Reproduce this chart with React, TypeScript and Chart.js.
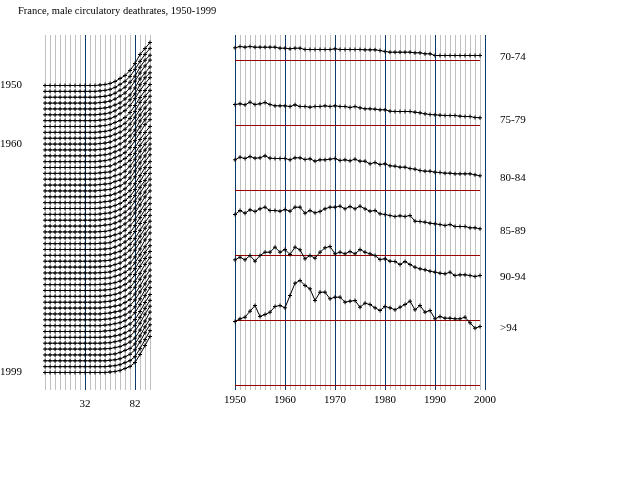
import { useEffect, useRef } from 'react';
import { Chart, type ChartConfiguration } from 'chart.js/auto';

Chart.defaults.font.family = "'Liberation Serif', 'Times New Roman', serif";
Chart.defaults.font.size = 11;
Chart.defaults.color = '#000';

const GRAY = '#c0c0c0';
const NAVY = '#0b3b6b';
const RED = '#990000';

const TITLE = 'France, male circulatory deathrates, 1950-1999';

const years = Array.from({ length: 50 }, (_, i) => 1950 + i);

// left panel: age axis (group midpoints), one curve per year
const ages = [-8, -3, 2, 7, 12, 17, 22, 27, 32, 37, 42, 47, 52, 57, 62, 67, 72, 77, 82, 87, 92, 97];
const ageLabels = [32, 82];
const youngRise = [0, 0, 0, 0, 0, 0, 0, 0, 0, 0, 0];
// rise over ages 47..97, one row per year 1950..1999
const oldRise = [
  [0.5, 1, 2, 4, 7, 10, 15, 22, 31, 37, 43],
  [0.5, 1, 2, 4, 7, 10, 15, 22, 30, 37, 43],
  [0.5, 1, 2, 4, 7, 10, 15, 21, 30, 37, 42],
  [0.5, 1, 2, 4, 7, 10, 15, 22, 30, 37, 43],
  [0.5, 1, 2, 4, 6, 10, 14, 21, 30, 36, 42],
  [0.5, 1, 2, 4, 7, 10, 15, 21, 30, 37, 42],
  [0.5, 1, 2, 4, 7, 10, 15, 22, 30, 37, 43],
  [0.5, 1, 2, 4, 6, 9, 14, 21, 29, 36, 42],
  [0.5, 1, 2, 4, 6, 9, 14, 21, 30, 36, 42],
  [0.5, 1, 2, 4, 6, 9, 14, 21, 29, 36, 42],
  [0.5, 1, 2, 4, 6, 9, 14, 21, 29, 36, 42],
  [0.5, 1, 2, 3.5, 6, 9, 14, 20, 29, 36, 41],
  [0.5, 1, 2, 4, 6, 9, 14, 21, 29, 36, 42],
  [0.5, 1, 2, 4, 6, 9, 14, 21, 29, 37, 42],
  [0.5, 1, 1.5, 3.5, 6, 9, 13, 20, 28, 35, 41],
  [0.5, 1, 1.5, 3.5, 6, 9, 13, 20, 28, 35, 41],
  [0.5, 1, 1.5, 3.5, 5, 8, 13, 20, 28, 35, 41],
  [0.5, 1, 1.5, 3.5, 5, 8, 13, 20, 28, 35, 41],
  [0.5, 1, 1.5, 3.5, 5, 8, 13, 20, 28, 35, 42],
  [0.3, 1, 1.5, 3, 5, 8, 13, 20, 28, 35, 42],
  [0.3, 1, 1.5, 3, 5, 8, 12, 19, 27, 35, 41],
  [0.3, 1, 1.5, 3, 5, 8, 12, 19, 27, 35, 41],
  [0.3, 1, 1.5, 3, 5, 8, 12, 19, 27, 34, 41],
  [0.3, 1, 1.5, 3, 5, 8, 12, 19, 27, 35, 41],
  [0.3, 1, 1.5, 3, 5, 8, 12, 18, 27, 34, 41],
  [0.3, 0.5, 1.5, 3, 5, 8, 12, 19, 27, 35, 41],
  [0.3, 0.5, 1.5, 3, 4.5, 7.5, 12, 18, 26, 34, 40],
  [0.3, 0.5, 1, 3, 4.5, 7.5, 11, 18, 26, 34, 40],
  [0.2, 0.5, 1, 2.5, 4.5, 7.5, 11, 18, 26, 34, 40],
  [0.2, 0.5, 1, 2.5, 4, 7, 11, 17, 25, 33, 40],
  [0.2, 0.5, 1, 2.5, 4, 7, 11, 17, 25, 33, 40],
  [0.2, 0.5, 1, 2.5, 4, 7, 10, 17, 25, 33, 40],
  [0.2, 0.5, 1, 2.5, 4, 6.5, 10, 16, 24, 33, 40],
  [0.2, 0.5, 1, 2.5, 4, 6.5, 10, 16, 24, 32, 39],
  [0.2, 0.5, 1, 2, 3.5, 6, 10, 16, 24, 32, 39],
  [0.2, 0.5, 1, 2, 3.5, 6, 9.5, 16, 24, 32, 39],
  [0.1, 0.5, 1, 2, 3.5, 6, 9, 15, 23, 32, 39],
  [0, 0.5, 1, 2, 3.5, 5.5, 9, 15, 23, 31, 39],
  [0, 0.5, 1, 2, 3, 5.5, 8.5, 14, 22, 31, 38],
  [0, 0.5, 1, 2, 3, 5, 8.5, 14, 22, 30, 38],
  [0, 0.5, 1, 2, 3, 5, 8, 13, 21, 30, 38],
  [0, 0.5, 1, 2, 3, 5, 8, 13, 21, 30, 38],
  [0, 0.5, 1, 1.5, 3, 5, 7.5, 12, 20, 29, 37],
  [0, 0.3, 0.5, 1.5, 2.5, 4.5, 7, 12, 20, 29, 37],
  [0, 0.3, 0.5, 1.5, 2.5, 4.5, 7, 12, 20, 29, 37],
  [0, 0.3, 0.5, 1.5, 2.5, 4.5, 7, 11, 19, 28, 37],
  [0, 0, 0.5, 1, 2.5, 4.5, 6.5, 11, 19, 28, 36],
  [0, 0, 0.5, 1, 2, 4, 6.5, 11, 19, 28, 36],
  [0, 0, 0.5, 1, 2, 4, 6, 10, 18, 27, 36],
  [0, 0, 0.5, 1, 2, 4, 6, 10, 18, 27, 36],
];
const yearTicks = [1950, 1960, 1999];

// right panel: one series per age group, height over its own baseline
const ageGroups = ['70-74', '75-79', '80-84', '85-89', '90-94', '>94'];
const rate7074 = [12.7, 14, 13.3, 14, 13.3, 13.3, 13.3, 13.3, 13.3, 12.3, 12.3, 11.7, 12.3, 12.3, 11, 11, 11, 11, 11, 11, 11.7, 11, 11, 11, 11, 11, 10.7, 10.7, 10.7, 10, 9, 8.3, 8.3, 8.3, 8.3, 8.3, 7.7, 7.7, 6.7, 6.7, 5, 5, 5, 5, 5, 5, 5, 5, 5, 5];
const rate7579 = [21, 21.7, 20.7, 23.3, 21, 21.7, 23, 21, 19.7, 19.7, 19.7, 19, 20.7, 19, 19, 18.3, 19, 19, 19.7, 19, 19.7, 19, 19, 18, 19, 17.7, 16.7, 16.7, 16.3, 15.7, 15.7, 14.3, 14, 14, 14, 14, 13.3, 12.7, 11.7, 11, 10.7, 10.3, 10, 10, 10, 9.3, 9, 9, 8, 7.7];
const rate8084 = [30.7, 33.3, 32, 34, 32.3, 32.7, 34.7, 32.3, 32, 32, 32, 30.7, 32.7, 32.7, 31, 31.7, 29.3, 30.7, 30.7, 31.3, 32, 30, 30.7, 29.7, 31.3, 29.3, 29.3, 26.7, 28, 26, 26.7, 24.7, 24.3, 23.3, 23.3, 22, 21.3, 20, 19.3, 19.3, 18.3, 18, 17.3, 17.3, 16.7, 16.7, 16.7, 16.7, 15.7, 14.7];
const rate8589 = [41, 45, 42.3, 45.7, 44, 46.7, 48.3, 45, 45, 44.3, 46, 44.3, 48.3, 48.3, 42.3, 45, 42.7, 44, 46.7, 48.3, 48.3, 49.3, 46.7, 49, 46.7, 49.3, 46.7, 44.3, 45, 41.7, 41, 40, 39, 39.7, 39, 40, 34.3, 34, 33.3, 32.3, 31.7, 31, 30, 31, 29, 29, 29, 27.7, 27.7, 26.7];
const rate9094 = [60.7, 63.3, 60.7, 65, 59.3, 65, 68.3, 68.3, 73.3, 68.3, 71, 66, 73.3, 70.7, 61.7, 65, 62.3, 68.3, 72.7, 74, 66.7, 68.3, 66.7, 69, 66.7, 71, 68.3, 66.7, 65, 61, 61.7, 59.3, 59, 56, 59, 56, 53.3, 51.7, 50.7, 49.3, 48.3, 47.3, 46.7, 48.3, 45, 45.7, 45.7, 45, 44, 45];
const rateOver94 = [64, 66.7, 68.3, 74.3, 80, 69, 71, 73.3, 79, 80, 77.7, 90, 102.3, 105, 100, 96.7, 85, 93.3, 93.3, 86.7, 88.3, 88.3, 83.3, 84.3, 85, 78.3, 82.3, 81, 77.7, 75, 79, 77.7, 75.7, 78.3, 81, 84.3, 75.7, 80, 73.3, 75, 66.7, 69, 67.3, 67.3, 66.7, 66.7, 68.3, 62.7, 57.3, 59];
const rateSeries = [rate7074, rate7579, rate8084, rate8589, rate9094, rateOver94];

// vertical layout of the stacked curves
const YEAR_GAP = 5.857;
const BASE_1999 = 18;
const PANEL_GAP = 65;
const curveBase = (yr: number) => BASE_1999 + (1999 - yr) * YEAR_GAP;
const panelBase = (i: number) => (ageGroups.length - 1 - i) * PANEL_GAP;

const gridColor = (marks: number[]) => (ctx: any) =>
  ctx.tick && marks.includes(ctx.tick.value) ? NAVY : GRAY;

const leftConfig: ChartConfiguration<'line'> = {
  type: 'line',
  data: {
    datasets: years.map((yr, i) => {
      const rise = [...youngRise, ...oldRise[i]];
      return {
        data: ages.map((a, j) => ({ x: a, y: curveBase(yr) + rise[j] })),
        borderColor: '#000',
        borderWidth: 1,
        pointStyle: 'cross',
        pointRadius: 2,
        pointBorderWidth: 1,
        pointBorderColor: '#000',
        clip: false as any,
      };
    }),
  },
  options: {
    responsive: false,
    animation: false,
    layout: { padding: { left: 0, top: 35, right: 30, bottom: 70 } },
    plugins: { legend: { display: false }, tooltip: { enabled: false } },
    scales: {
      x: {
        type: 'linear',
        min: -8,
        max: 97,
        afterBuildTicks: (s: any) => { s.ticks = ages.map((v) => ({ value: v })); },
        afterFit: (s: any) => { s.height = 20; },
        grid: { color: gridColor(ageLabels), drawTicks: false },
        border: { display: false },
        ticks: { autoSkip: false, maxRotation: 0, padding: 8, callback: (v: any) => (ageLabels.includes(v) ? String(v) : '') },
      },
      y: {
        min: 0.5,
        max: 355.5,
        afterBuildTicks: (s: any) => { s.ticks = yearTicks.map((yr) => ({ value: curveBase(yr) })); },
        afterFit: (s: any) => { s.width = 45; },
        grid: { display: false },
        border: { display: false },
        ticks: {
          crossAlign: 'far',
          padding: 0,
          callback: (v: any) => String(Math.round(1999 - (v - BASE_1999) / YEAR_GAP)),
        },
      },
    },
  },
};

const groupLabels = {
  id: 'groupLabels',
  afterDatasetsDraw(chart: any) {
    const { ctx, chartArea } = chart;
    ctx.save();
    ctx.font = "11px 'Liberation Serif', serif";
    ctx.fillStyle = '#000';
    ctx.textBaseline = 'middle';
    ageGroups.forEach((g, i) => {
      const pts = chart.getDatasetMeta(i).data;
      ctx.fillText(g, chartArea.right + 15, pts[pts.length - 1].y + 2);
    });
    ctx.restore();
  },
};

const rightConfig: ChartConfiguration<'line'> = {
  type: 'line',
  data: {
    datasets: [
      ...rateSeries.map((vals, i) => ({
        data: years.map((yr, j) => ({ x: yr, y: panelBase(i) + vals[j] })),
        borderColor: '#000',
        borderWidth: 1,
        pointStyle: 'cross',
        pointRadius: 2,
        pointBorderWidth: 1,
        pointBorderColor: '#000',
        clip: false as any,
      })),
      ...ageGroups.map((_, i) => ({
        data: years.map((yr) => ({ x: yr, y: panelBase(i) })),
        borderColor: RED,
        borderWidth: 1,
        pointRadius: 0,
      })),
    ],
  },
  options: {
    responsive: false,
    animation: false,
    layout: { padding: { left: 35, top: 35, right: 155, bottom: 70 } },
    plugins: { legend: { display: false }, tooltip: { enabled: false } },
    scales: {
      x: {
        type: 'linear',
        min: 1950,
        max: 2000,
        afterBuildTicks: (s: any) => { s.ticks = [...years, 2000].map((v) => ({ value: v })); },
        afterFit: (s: any) => { s.height = 20; },
        grid: { color: (ctx: any) => (ctx.tick && ctx.tick.value % 10 === 0 ? NAVY : GRAY), drawTicks: false },
        border: { display: false },
        ticks: { autoSkip: false, maxRotation: 0, padding: 4, callback: (v: any) => (v % 10 === 0 ? String(v) : '') },
      },
      // half-unit shift keeps the red baselines on whole pixel rows
      y: { display: false, min: -4.5, max: 350.5 },
    },
  },
  plugins: [groupLabels],
};

function ChartCanvas({ config, left, width }: { config: ChartConfiguration<'line'>; left: number; width: number }) {
  const canvasRef = useRef<HTMLCanvasElement>(null);

  useEffect(() => {
    if (!canvasRef.current) return;
    const chart = new Chart(canvasRef.current, config);
    return () => chart.destroy();
  }, [config]);

  return (
    <div style={{ position: 'absolute', left, top: 0, width, height: 480 }}>
      <canvas ref={canvasRef} width={width} height={480} style={{ display: 'block' }}></canvas>
    </div>
  );
}

export default function App() {
  return (
    <div style={{ position: 'fixed', left: 0, top: 0, width: 640, height: 480, background: '#fff', overflow: 'hidden' }}>
      <ChartCanvas config={leftConfig} left={0} width={180} />
      <ChartCanvas config={rightConfig} left={200} width={440} />
      <div
        style={{
          position: 'absolute',
          left: 18,
          top: 5,
          font: "10.5px 'Liberation Serif', serif",
          color: '#000',
          whiteSpace: 'nowrap',
        }}
      >
        {TITLE}
      </div>
    </div>
  );
}
